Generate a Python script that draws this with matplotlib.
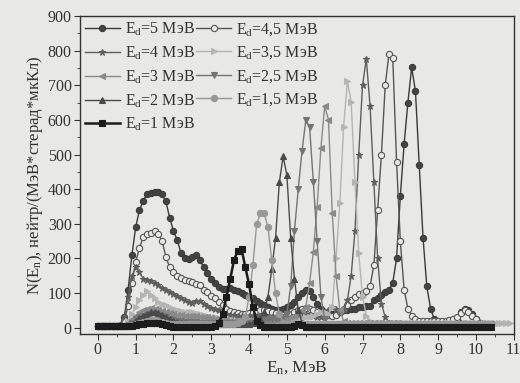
import numpy as np
import matplotlib
matplotlib.use("Agg")
import matplotlib.pyplot as plt

plt.rcParams['font.family'] = ['Liberation Serif', 'DejaVu Serif']
plt.rcParams['mathtext.fontset'] = 'custom'
plt.rcParams['mathtext.rm'] = 'Liberation Serif'
plt.rcParams['mathtext.it'] = 'Liberation Serif:italic'

# energy grid, MeV (step 0.1)
energy = np.round(np.arange(0, 11.0, 0.1), 1)

# spectra
ed5 = [5, 5, 5, 5, 5, 5, 8, 30, 110, 209,
       290, 340, 365, 387, 390, 392, 392, 385, 365, 317,
       280, 253, 215, 200, 198, 205, 209, 195, 175, 157,
       140, 128, 118, 112, 112, 115, 110, 105, 100, 95,
       90, 85, 78, 72, 66, 60, 55, 50, 50, 55,
       60, 65, 75, 90, 100, 110, 105, 90, 70, 55,
       45, 40, 40, 40, 45, 50, 50, 55, 55, 60,
       60, 62, 64, 80, 87, 95, 102, 110, 130, 200,
       380, 530, 650, 752, 683, 470, 260, 120, 55, 25,
       15, 12, 10, 10, 15, 25, 45, 55, 50, 40,
       25, 15, 10, 8, 8]
ed45 = [5, 5, 5, 5, 5, 5, 5, 20, 64, 130,
        190, 230, 262, 270, 275, 280, 272, 250, 205, 174,
        160, 150, 143, 138, 134, 131, 127, 122, 110, 102,
        92, 85, 75, 65, 55, 48, 45, 42, 40, 40,
        42, 45, 48, 50, 50, 48, 45, 42, 40, 38,
        38, 40, 45, 50, 55, 58, 55, 50, 45, 40,
        38, 36, 35, 38, 45, 55, 65, 80, 90, 98,
        100, 105, 120, 180, 340, 500, 700, 791, 779, 480,
        250, 110, 55, 35, 25, 20, 20, 20, 20, 20,
        20, 20, 20, 22, 25, 30, 42, 50, 45, 35,
        25, 15, 10, 10, 10]
ed4 = [5, 5, 5, 5, 5, 5, 8, 30, 90, 150,
       174, 160, 142, 138, 135, 128, 122, 116, 110, 102,
       98, 92, 86, 80, 74, 72, 76, 78, 70, 62,
       58, 55, 50, 45, 40, 38, 36, 35, 35, 35,
       35, 35, 35, 35, 33, 32, 30, 30, 30, 30,
       30, 30, 32, 35, 38, 40, 38, 35, 32, 30,
       35, 50, 60, 55, 45, 50, 80, 150, 280, 500,
       700, 776, 640, 420, 200, 70, 30, 15, 10, 10,
       10, 10, 10, 10, 10, 10, 10, 10, 10, 10,
       10, 10, 10, 10, 10, 12, 15, 15, 12, 10,
       10, 8, 8, 8, 8]
ed35 = [5, 5, 5, 5, 5, 5, 5, 5, 20, 40,
        60, 80, 95, 105, 95, 85, 75, 70, 65, 60,
        55, 50, 48, 45, 45, 45, 42, 40, 38, 35,
        32, 30, 28, 25, 25, 25, 22, 20, 20, 20,
        20, 20, 20, 20, 20, 20, 20, 20, 20, 20,
        20, 20, 22, 25, 28, 30, 32, 35, 40, 45,
        45, 40, 60, 200, 360, 580, 712, 651, 420, 215,
        90, 35, 20, 15, 15, 15, 15, 15, 15, 15,
        15, 15, 15, 15, 15, 15, 15, 15, 15, 15,
        15, 15, 15, 15, 15, 15, 15, 15, 15, 15,
        15, 15, 15, 15, 15, 15, 15, 15, 15, 15]
ed3 = [5, 5, 5, 5, 5, 5, 5, 5, 15, 25,
       35, 45, 50, 55, 58, 55, 52, 48, 45, 42,
       40, 38, 36, 35, 35, 34, 33, 32, 30, 30,
       28, 26, 25, 24, 22, 20, 20, 20, 20, 20,
       20, 20, 20, 20, 20, 20, 20, 22, 22, 25,
       25, 30, 35, 40, 50, 60, 130, 220, 350, 520,
       640, 600, 330, 150, 50, 20, 15, 15, 15, 15,
       15, 15, 15, 15, 15, 15, 15, 15, 15, 15,
       12, 12, 12, 12, 12, 12, 12, 12, 12, 12,
       12, 12, 12, 12, 12, 12, 12, 12, 12, 12,
       12, 12, 12, 12, 12]
ed25 = [5, 5, 5, 5, 5, 5, 5, 5, 5, 15,
        25, 30, 35, 38, 40, 40, 38, 35, 30, 25,
        22, 20, 20, 18, 18, 18, 16, 15, 15, 15,
        15, 15, 15, 15, 15, 15, 15, 15, 15, 15,
        15, 15, 18, 20, 22, 25, 25, 25, 28, 30,
        40, 120, 280, 400, 510, 600, 580, 420, 250, 90,
        25, 12, 12, 12, 12, 12, 12, 12, 12, 12,
        12, 12, 12, 12, 12, 12, 12, 12, 12, 12,
        12, 12, 12, 12, 12, 12, 12, 12, 12, 12,
        12, 12, 12, 12, 12, 12, 12, 12, 12, 12,
        12, 12, 12, 12, 12]
ed2 = [5, 5, 5, 5, 5, 5, 5, 5, 5, 12,
       20, 28, 35, 40, 45, 45, 42, 38, 32, 25,
       20, 18, 15, 15, 12, 12, 12, 10, 10, 10,
       10, 10, 10, 10, 10, 10, 10, 10, 10, 10,
       12, 15, 18, 25, 45, 90, 170, 259, 420, 495,
       440, 260, 142, 50, 15, 10, 10, 10, 10, 10,
       8, 8, 8, 8, 8, 8, 8, 8, 8, 8,
       8, 8, 8, 8, 8, 8, 8, 8, 8, 8,
       8, 8, 8, 8, 8, 8, 8, 8, 8, 8,
       8, 8, 8, 8, 8, 8, 8, 8, 8, 8,
       8, 8, 8, 8, 8]
ed15 = [5, 5, 5, 5, 5, 5, 5, 5, 5, 8,
        12, 15, 18, 20, 22, 22, 20, 18, 15, 12,
        10, 10, 10, 10, 10, 10, 10, 10, 10, 10,
        10, 10, 10, 10, 10, 10, 12, 15, 20, 30,
        90, 180, 300, 330, 330, 290, 195, 100, 40, 15,
        10, 10, 10, 10, 10, 10, 10, 10, 10, 10,
        10, 10, 10, 10, 10, 10, 10, 10, 10, 10,
        10, 10, 10, 10, 10, 10, 10, 10, 10, 10,
        10, 10, 10, 10, 10, 10, 10, 10, 10, 10,
        10, 10, 10, 10, 10, 10, 10, 10, 10, 10,
        10, 10, 10, 10, 10]
ed1 = [5, 5, 5, 5, 5, 5, 5, 5, 5, 5,
       8, 10, 12, 15, 15, 15, 15, 12, 8, 5,
       3, 3, 3, 3, 3, 3, 3, 3, 3, 3,
       3, 5, 15, 40, 90, 140, 195, 222, 228, 175,
       125, 60, 20, 8, 3, 3, 3, 3, 3, 3,
       3, 3, 5, 10, 8, 3, 3, 3, 3, 3,
       3, 3, 3, 3, 3, 3, 3, 3, 3, 3,
       3, 3, 3, 3, 3, 3, 3, 3, 3, 3,
       3, 3, 3, 3, 3, 3, 3, 3, 3, 3,
       3, 3, 3, 3, 3, 3, 3, 3, 3, 3,
       3, 3, 3, 3, 3]

labels = ["5", "4,5", "4", "3,5", "3", "2,5", "2", "1,5", "1"]
series = [ed5, ed45, ed4, ed35, ed3, ed25, ed2, ed15, ed1]

bg = '#e8e8e6'
styles = [
    dict(color='#3a3a3a', marker='o', mfc='#444444', ms=4.5, lw=1.0),
    dict(color='#555555', marker='o', mfc=bg, ms=4.5, lw=1.0),
    dict(color='#5e5e5e', marker='*', mfc='#5e5e5e', ms=5, lw=1.0),
    dict(color='#b4b4b4', marker='>', mfc='#b4b4b4', ms=4.5, lw=1.0),
    dict(color='#8a8a8a', marker='<', mfc='#8a8a8a', ms=4.5, lw=1.0),
    dict(color='#747474', marker='v', mfc='#747474', ms=4.5, lw=1.0),
    dict(color='#4a4a4a', marker='^', mfc='#4a4a4a', ms=4.5, lw=1.0),
    dict(color='#989898', marker='o', mfc='#989898', ms=4.5, lw=1.0),
    dict(color='#1c1c1c', marker='s', mfc='#1c1c1c', ms=4.5, lw=1.8),
]

fig = plt.figure(figsize=(5.2, 3.83), dpi=100, facecolor=bg)
ax = fig.add_axes([0.154, 0.128, 0.834, 0.83], facecolor=bg)

handles = []
for lab, vals, st in zip(labels, series, styles):
    x = energy[:len(vals)]
    h, = ax.plot(x, vals, mec=st['color'], mew=0.8,
                 label=r"E$_{\rm d}$=" + lab + " МэВ", **st)
    handles.append(h)

ax.set_xlim(-0.47, 10.95)
ax.set_ylim(-18, 900)
ax.set_xticks(np.arange(0, 12, 1))
ax.set_xticks(np.arange(0, 11, 0.5), minor=True)
ax.set_yticks(np.arange(0, 1000, 100))
ax.set_yticks(np.arange(0, 900, 50), minor=True)
ax.tick_params(which='major', direction='out', length=4, labelsize=11.5,
               colors='#333333', pad=2)
ax.tick_params(which='minor', direction='out', length=2, colors='#333333')
for s in ax.spines.values():
    s.set_color('#333333')
    s.set_linewidth(1.0)

ax.set_xlabel(r"E$_{\rm n}$, МэВ", fontsize=12.5, color='#333333', labelpad=1)
ax.set_ylabel(r"N(E$_{\rm n}$), нейтр/(МэВ*стерад*мкКл)", fontsize=12,
              color='#333333', labelpad=2)

# legend filled row by row like the original
order = [0, 2, 4, 6, 8, 1, 3, 5, 7]
leg = ax.legend([handles[i] for i in order], [handles[i].get_label() for i in order],
                ncol=2, loc='upper left', frameon=False, fontsize=11.5,
                handlelength=2.2, handletextpad=0.3, columnspacing=0.1,
                labelspacing=0.4, borderaxespad=0.2, borderpad=0.1)
for t in leg.get_texts():
    t.set_color('#333333')

fig.savefig("out.png", dpi=100, facecolor=bg)
